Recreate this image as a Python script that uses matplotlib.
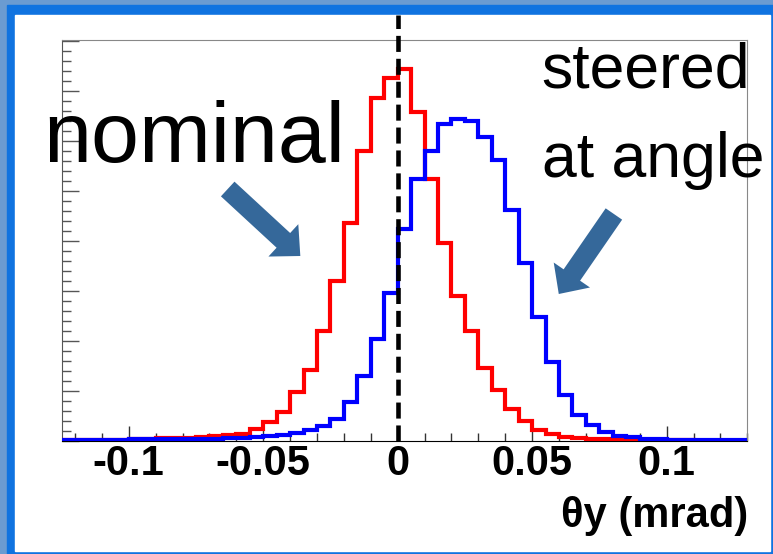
import numpy as np
import matplotlib.pyplot as plt
from matplotlib.patches import Rectangle
from matplotlib.ticker import MultipleLocator

plt.rcParams['font.family'] = ['Liberation Sans', 'DejaVu Sans']
plt.rcParams['axes.unicode_minus'] = False

# theta_y bins, 0.005 mrad wide
edges = np.linspace(-0.125, 0.13, 52)

# beam at nominal position
nominal = [1.5, 1.5, 1.5, 1.5, 1.5, 2, 2.5, 3, 3, 3.5,
           4, 5, 6, 7.5, 12, 19, 29, 49, 71, 110,
           160, 218, 290, 343, 363, 372, 329, 262, 198, 145,
           110, 73, 51, 32, 20, 11, 7.5, 4.5, 3.5, 2.5,
           2, 1.5, 1.5, 0.8, 0.8, 0.6, 0.6, 0.5, 0.5, 0.5, 0.5]

# beam steered at an angle
steered = [0.7, 0.7, 0.7, 1.5, 1.5, 1.7, 1.7, 2.3, 2.3, 2.3,
           2.5, 2.5, 3.3, 3.5, 4.3, 5, 6, 8.3, 11, 15.3,
           22, 39, 65, 102, 148, 212, 262, 290, 317, 322,
           320, 304, 281, 231, 178, 124, 79, 46, 26, 16,
           9.3, 5.3, 3.7, 2, 2, 1.5, 1.5, 1.2, 1.2, 1, 1]

tick_pos = [-0.1, -0.05, 0, 0.05, 0.1]
tick_labels = ['-0.1', '-0.05', '0', '0.05', '0.1']

W, H = 773, 554
fig = plt.figure(figsize=(W / 100, H / 100), dpi=100)
fig.patch.set_facecolor('#6b9bd1')
fig.add_artist(Rectangle((7 / W, 0), 1, (H - 5) / H, transform=fig.transFigure,
                         color='#1073e0', zorder=-2))
fig.add_artist(Rectangle((15 / W, 3 / H), 755 / W, 536 / H, transform=fig.transFigure,
                         color='white', zorder=-1))

ax = fig.add_axes([61.5 / W, 113 / H, 685.8 / W, 401 / H])
ax.set_facecolor('white')

ax.stairs(nominal, edges, color='#ff0000', lw=3, baseline=None, zorder=4)
ax.stairs(steered, edges, color='#0000ff', lw=3, baseline=None, zorder=4)

ax.axvline(0, ymin=0, ymax=426 / 401, color='black', lw=3.3, dashes=(3.5, 1.5),
           clip_on=False, zorder=5)

ax.set_xlim(-0.125, 0.13)
ax.set_ylim(0, 401)

ax.set_xticks(tick_pos, tick_labels)
ax.xaxis.set_minor_locator(MultipleLocator(0.01))
ax.set_yticks(np.arange(0, 401, 50))
ax.set_yticklabels([])
ax.yaxis.set_minor_locator(MultipleLocator(10))

ax.tick_params(axis='x', which='major', direction='in', length=10.8, width=1,
               color='#333333', labelsize=30, pad=2)
ax.tick_params(axis='x', which='minor', direction='in', length=5.8, width=1, color='#333333')
ax.tick_params(axis='y', which='major', direction='in', length=12.2, width=1, color='#555555')
ax.tick_params(axis='y', which='minor', direction='in', length=6.5, width=1, color='#555555')
for lbl in ax.get_xticklabels():
    lbl.set_fontweight('bold')

ax.spines['left'].set_color('#555555')
ax.spines['top'].set_color('#888888')
ax.spines['right'].set_color('#888888')
ax.spines['bottom'].set_color('black')

ax.set_xlabel('θy (mrad)', fontsize=30, fontweight='bold', loc='right')
ax.xaxis.set_label_coords(1.002, -0.138)

# labels and arrows
ax.text(-0.1317, 279, 'nominal', fontsize=62, va='baseline', zorder=6)
ax.text(0.0535, 354, 'steered', fontsize=45, va='baseline', zorder=6)
ax.text(0.0535, 264, 'at angle', fontsize=45, va='baseline', zorder=6)

arrow_style = 'simple,head_width=3.17,head_length=1.66,tail_width=1.44'
ax.annotate('', xy=(-0.0362, 185), xytext=(-0.0632, 252),
            arrowprops=dict(arrowstyle=arrow_style, color='#35689a', lw=0,
                            shrinkA=0, shrinkB=0, mutation_scale=10))
ax.annotate('', xy=(0.0599, 147), xytext=(0.0804, 227),
            arrowprops=dict(arrowstyle=arrow_style, color='#35689a', lw=0,
                            shrinkA=0, shrinkB=0, mutation_scale=10))

fig.savefig('out.png', dpi=100, facecolor=fig.get_facecolor())
